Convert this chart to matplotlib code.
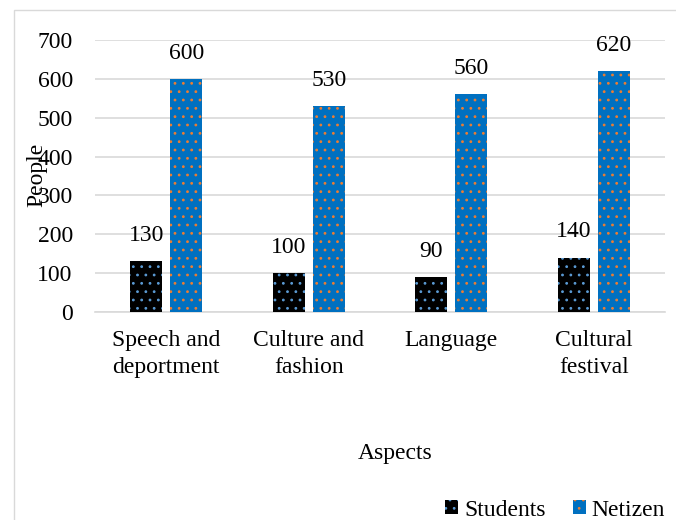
import matplotlib.pyplot as plt
import numpy as np
from matplotlib.patches import Rectangle

categories = ["Speech and\ndeportment", "Culture and\nfashion", "Language", "Cultural\nfestival"]
students = [130, 100, 90, 140]
netizen = [600, 530, 560, 620]
y_ticks = [0, 100, 200, 300, 400, 500, 600, 700]

plt.rcParams["font.family"] = ["Liberation Serif", "DejaVu Serif"]
plt.rcParams["hatch.linewidth"] = 0.8

FS = 17
W, H = 676, 520
fig = plt.figure(figsize=(W / 100, H / 100), dpi=100)
ax = fig.add_axes([95 / W, 1 - 312 / H, 570 / W, 272 / H])

# light frame round the chart
fig.patches.append(Rectangle((14 / W, -0.01), 1.0, 1 - 10 / H + 0.01, transform=fig.transFigure,
                             fill=False, edgecolor="#D9D9D9", linewidth=1))

x = np.arange(len(categories))
bw = 0.225
gap = 0.056
b1 = ax.bar(x - (bw + gap) / 2, students, bw, color="black", edgecolor="#5B9BD5",
            hatch="..", linewidth=0, label="Students", zorder=3)
b2 = ax.bar(x + (bw + gap) / 2, netizen, bw, color="#0070C0", edgecolor="#ED7D31",
            hatch="..", linewidth=0, label="Netizen", zorder=3)

for bars, vals in ((b1, students), (b2, netizen)):
    for rect, v in zip(bars, vals):
        ax.annotate(str(v), (rect.get_x() + rect.get_width() / 2, v), xytext=(0, 11),
                    textcoords="offset points", ha="center", va="bottom", fontsize=FS)

ax.set_xlim(-0.5, len(categories) - 0.5)
ax.set_ylim(0, 700)
ax.set_yticks(y_ticks)
ax.set_xticks(x)
ax.set_xticklabels(categories, fontsize=FS, linespacing=1.38)
ax.tick_params(axis="y", length=0, pad=16, labelsize=FS)
ax.tick_params(axis="x", length=0, pad=13)
ax.grid(axis="y", color="#D9D9D9", linewidth=1.2, zorder=0)
for s in ("top", "right", "left"):
    ax.spines[s].set_visible(False)
ax.spines["bottom"].set_color("#D9D9D9")
ax.spines["bottom"].set_linewidth(1.2)

ax.set_ylabel("People", fontsize=FS)
ax.yaxis.set_label_coords((47 - 95) / 570, (312 - 175) / 272)

fig.text(395 / W, 1 - 453 / H, "Aspects", ha="center", va="center", fontsize=FS)

fig.legend(handles=[b1, b2], loc="center right", bbox_to_anchor=(677 / W, 1 - 510 / H),
           ncol=2, frameon=False, fontsize=FS, handlelength=0.55, handleheight=0.55,
           handletextpad=0.25, columnspacing=1.15, borderpad=0)

fig.savefig("out.png", dpi=100)
